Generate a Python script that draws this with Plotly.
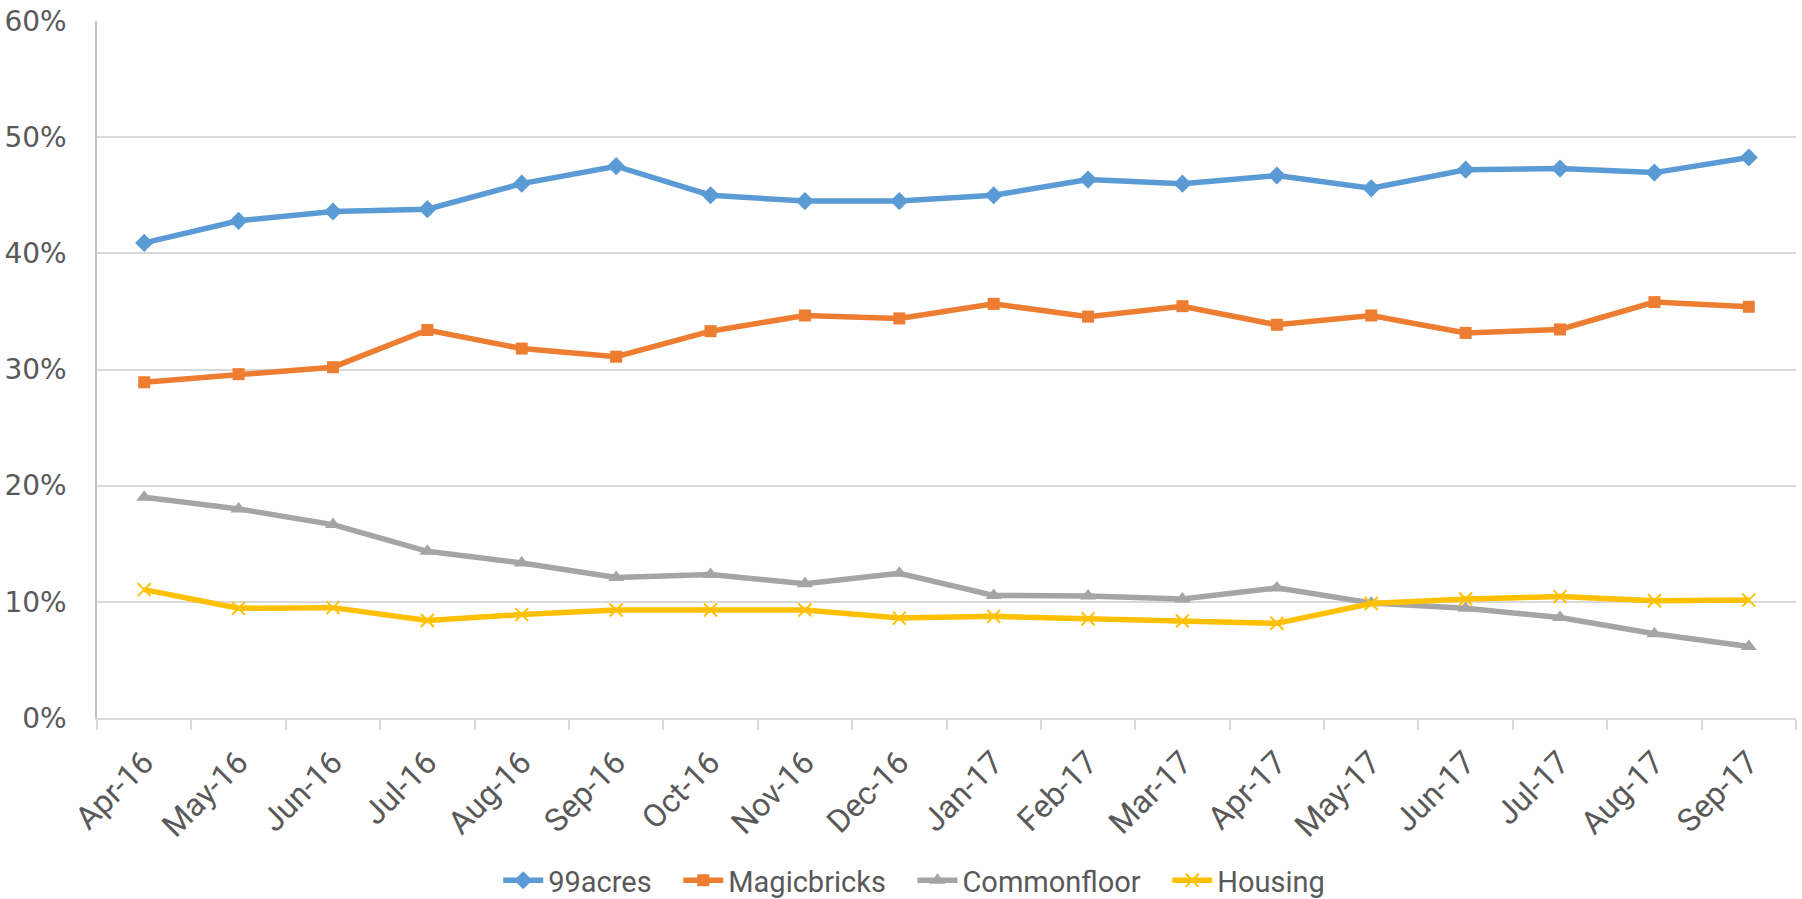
import plotly.graph_objects as go

months = ["Apr-16", "May-16", "Jun-16", "Jul-16", "Aug-16", "Sep-16", "Oct-16", "Nov-16", "Dec-16",
          "Jan-17", "Feb-17", "Mar-17", "Apr-17", "May-17", "Jun-17", "Jul-17", "Aug-17", "Sep-17"]

acres99 = [40.9, 42.8, 43.6, 43.8, 46.0, 47.5, 45.0, 44.5, 44.5,
           45.0, 46.35, 46.0, 46.7, 45.6, 47.2, 47.3, 46.95, 48.25]
magicbricks = [28.9, 29.6, 30.2, 33.4, 31.8, 31.1, 33.3, 34.65, 34.4,
               35.65, 34.55, 35.45, 33.85, 34.65, 33.15, 33.45, 35.8, 35.4]
commonfloor = [19.0, 18.0, 16.65, 14.35, 13.35, 12.1, 12.35, 11.55, 12.45,
               10.55, 10.5, 10.25, 11.2, 9.9, 9.45, 8.65, 7.25, 6.15]
housing = [11.05, 9.45, 9.5, 8.4, 8.9, 9.3, 9.3, 9.3, 8.6,
           8.75, 8.55, 8.35, 8.15, 9.85, 10.25, 10.45, 10.1, 10.15]

y_ticks = [0, 10, 20, 30, 40, 50, 60]
y_tick_labels = ["0%", "10%", "20%", "30%", "40%", "50%", "60%"]

series = [
    ("99acres", acres99, "#5B9BD5", "diamond", 14),
    ("Magicbricks", magicbricks, "#ED7D31", "square", 12),
    ("Commonfloor", commonfloor, "#A5A5A5", "triangle-up", 14),
    ("Housing", housing, "#FFC000", "x-thin", 13),
]

PAD = "\u00a0\u00a0\u00a0"

fig = go.Figure()
for i, (name, vals, color, sym, size) in enumerate(series):
    marker = dict(symbol=sym, size=size, color=color)
    if sym == "x-thin":
        marker["line"] = dict(color=color, width=2)
    label = name + (PAD if i < len(series) - 1 else "")
    fig.add_trace(go.Scatter(
        x=months, y=vals, name=label, mode="lines+markers",
        line=dict(color=color, width=5.5),
        marker=marker,
    ))

fig.update_layout(
    width=1802, height=899,
    margin=dict(l=97, r=6, t=21, b=181, autoexpand=False),
    paper_bgcolor="white", plot_bgcolor="white",
    showlegend=True,
    legend=dict(orientation="h", x=0.481, xanchor="center", y=-0.233, yanchor="middle",
                font=dict(family="Roboto, sans-serif", size=29, color="#595959"),
                itemwidth=40, tracegroupgap=0),
    font=dict(color="#595959"),
)
fig.update_xaxes(
    type="category", tickangle=-45, tickson="boundaries", ticks="outside", ticklen=10,
    tickcolor="#D9D9D9", tickwidth=1.5,
    showline=True, linecolor="#D9D9D9", linewidth=1.5, showgrid=False,
    tickfont=dict(family="Roboto, sans-serif", size=32, color="#595959"),
    ticklabelstandoff=11,
    range=[-0.5, len(months) - 0.5], automargin=False,
)
fig.update_yaxes(
    range=[0, 60], tickvals=y_ticks, ticktext=y_tick_labels,
    showgrid=True, gridcolor="#D9D9D9", gridwidth=1.5,
    showline=True, linecolor="#BFBFBF", linewidth=1.5, zeroline=False,
    tickfont=dict(family="DejaVu Sans, sans-serif", size=28, color="#595959"),
    ticks="", ticklabelstandoff=23, automargin=False,
)

fig.write_html("out.html")
